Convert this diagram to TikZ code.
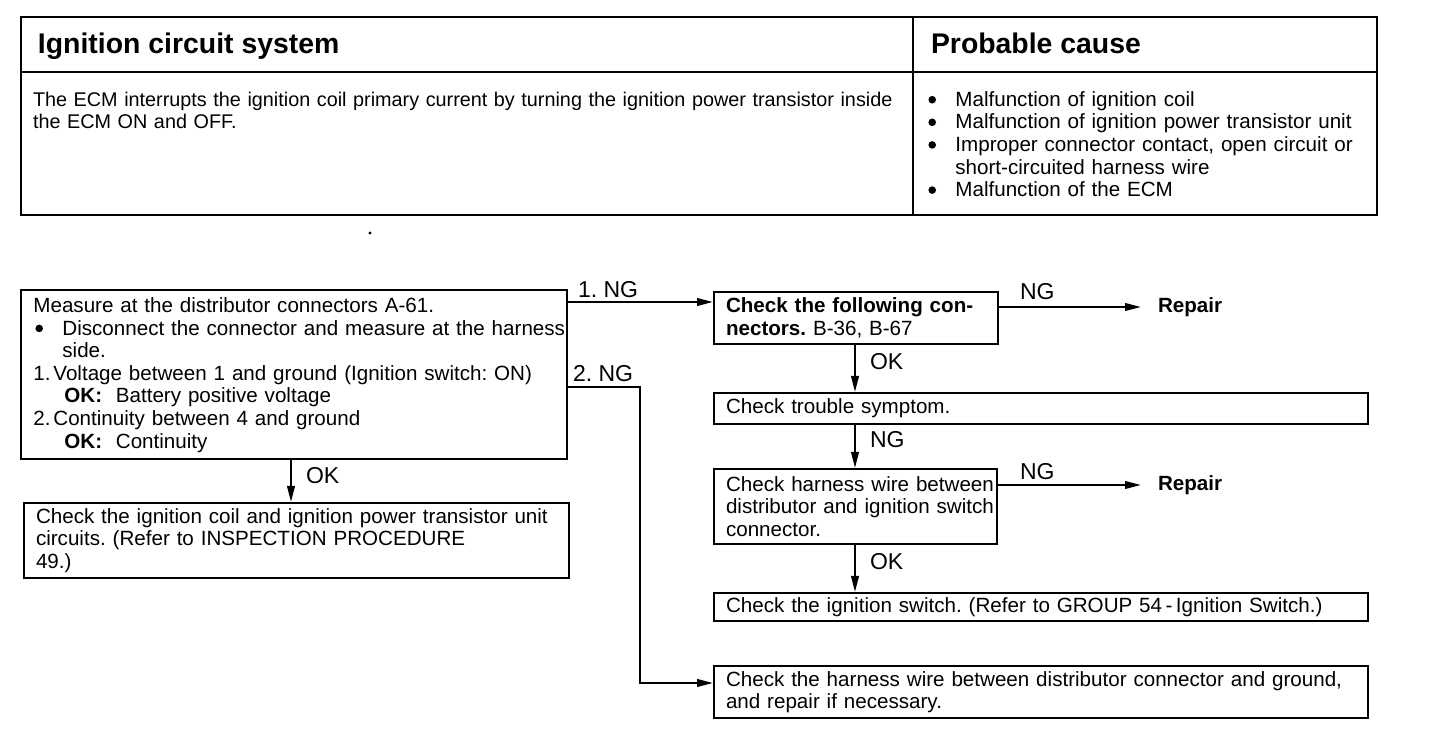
\documentclass[tikz,border=0pt]{standalone}
\usepackage{fontspec}
\setmainfont{Liberation Sans}
\usetikzlibrary{arrows.meta}
\frenchspacing
\newcommand{\bodyfont}{\fontsize{10.3}{11.3}\selectfont}
\newcommand{\bul}{\tikz[baseline=-3.3pt]\fill (0,0) circle[radius=1.9pt];}
\newcommand{\J}[1]{\makebox[\hsize][s]{#1}}
\newcommand{\JW}[2]{\makebox[#1][s]{#2}}
\begin{document}
\begin{tikzpicture}[x=0.5pt,y=-0.5pt,line width=1pt,
  box/.style={draw, anchor=north west, inner xsep=6pt, inner ysep=0pt, align=left, font=\bodyfont},
  conn/.style={-{Triangle[length=8pt,width=3.8pt]}},
  lbl/.style={anchor=base west, inner sep=0pt, font=\fontsize{11.5}{12}\selectfont},
  rep/.style={anchor=base west, inner xsep=8pt, inner ysep=0pt, font=\bodyfont\bfseries},
  head/.style={anchor=base west, inner sep=0pt, font=\fontsize{14.2}{16}\selectfont\bfseries}]
\useasboundingbox (0,0) rectangle (1440,742);
% ---------- top table ----------
\draw (21,17) rectangle (1377,215);
\draw (21,72) -- (1377,72);
\draw (913,17) -- (913,215);
\node[head] (h1) at (37,54) {Ignition circuit system};
\node[head] (h2) at (930,54) {Probable cause};
\node[anchor=north west, inner sep=0pt, text width=435pt, align=left, font=\fontsize{9.9}{11.3}\selectfont] (desc) at (32,91)
  {\J{The ECM interrupts the ignition coil primary current by turning the ignition power transistor inside}\\
   the ECM ON and OFF.};
\node[anchor=north west, inner sep=0pt, text width=217.5pt, align=left, font=\bodyfont] (cause) at (928,91)
  {\makebox[13.5pt][l]{\bul}Malfunction of ignition coil\\
   \J{\makebox[13.5pt][l]{\bul}Malfunction of ignition power transistor unit}\\
   \J{\makebox[13.5pt][l]{\bul}Improper connector contact, open circuit or}\\
   \hspace*{13.5pt}short-circuited harness wire\\
   \makebox[13.5pt][l]{\bul}Malfunction of the ECM};
\fill (370,233) circle[radius=0.8pt];
% ---------- flow chart ----------
\node[box, text width=261pt, minimum height=84.5pt] (A) at (21,290)
  {Measure at the distributor connectors A-61.\\
   \J{\makebox[14.5pt][l]{\hspace*{1pt}\bul}Disconnect the connector and measure at the harness}\\
   \hspace*{14.5pt}side.\\
   \J{\makebox[10pt][l]{1.}Voltage between 1 and ground (Ignition switch: ON)}\\
   \hspace*{15.5pt}\textbf{OK:}\ \ Battery positive voltage\\
   \makebox[10pt][l]{2.}Continuity between 4 and ground\\
   \hspace*{15.5pt}\textbf{OK:}\ \ Continuity};
\node[box, text width=260.5pt, minimum height=37.5pt] (G) at (23,502)
  {\J{Check the ignition coil and ignition power transistor unit}\\
   circuits. (Refer to INSPECTION PROCEDURE\\
   49.)};
\node[box, text width=130pt, minimum height=26pt] (B) at (713,291)
  {\J{\textbf{Check the following con-}}\\
   \textbf{nectors.} B-36, B-67};
\node[box, text width=315pt, minimum height=15.5pt] (C) at (713,392)
  {Check trouble symptom.};
\node[box, text width=129.5pt, minimum height=37.5pt] (D) at (713,468)
  {\J{Check harness wire between}\\
   \J{distributor and ignition switch}\\
   connector.};
\node[box, text width=315pt, minimum height=14pt] (E) at (713,592)
  {\JW{306pt}{Check the ignition switch. (Refer to GROUP 54\,-\,Ignition Switch.)}};
\node[box, text width=315pt, minimum height=26pt] (F) at (713,665)
  {\J{Check the harness wire between distributor connector and ground,}\\
   and repair if necessary.};
\node[rep] (rep1) at (1141,313) {Repair};
\node[rep] (rep2) at (1141,491) {Repair};
% helper coordinates
\coordinate (y302) at (0,302);
\coordinate (y387) at (0,387);
\coordinate (y683) at (0,683);
\coordinate (y307) at (0,307);
\coordinate (y485) at (0,485);
\coordinate (x291) at (291,0);
\coordinate (x855) at (855,0);
\coordinate (x640) at (640,0);
% connectors
\draw[conn] (A.east |- y302) -- (B.west |- y302);
\draw[conn] (A.east |- y387) -- (x640 |- y387) -- (x640 |- y683) -- (F.west |- y683);
\draw[conn] (A.south -| x291) -- (G.north -| x291);
\draw[conn] (B.east |- y307) -- (rep1.west |- y307);
\draw[conn] (B.south -| x855) -- (C.north -| x855);
\draw[conn] (C.south -| x855) -- (D.north -| x855);
\draw[conn] (D.east |- y485) -- (rep2.west |- y485);
\draw[conn] (D.south -| x855) -- (E.north -| x855);
% labels
\node[lbl] (l1) at (577,298) {1. NG};
\node[lbl] (l2) at (572,382) {2. NG};
\node[lbl] (l3) at (305,484) {OK};
\node[lbl] (l4) at (1019,300) {NG};
\node[lbl] (l5) at (869,370) {OK};
\node[lbl] (l6) at (869,448) {NG};
\node[lbl] (l7) at (1019,480) {NG};
\node[lbl] (l8) at (869,570) {OK};
\end{tikzpicture}
\end{document}
